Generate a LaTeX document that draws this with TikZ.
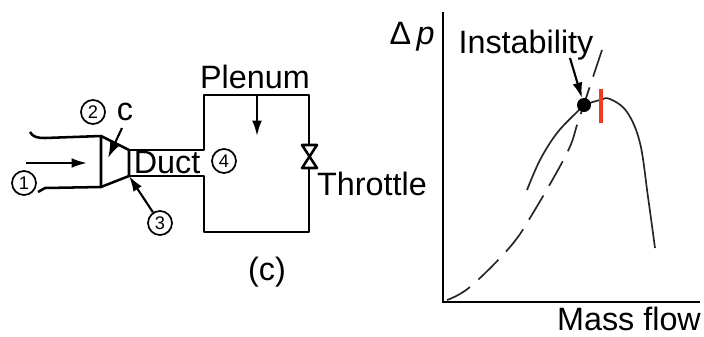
\documentclass[tikz,border=0pt]{standalone}
\usepackage{fontspec}
\setmainfont{Liberation Sans}
\usetikzlibrary{arrows.meta}
\definecolor{stallred}{RGB}{240,60,30}
\tikzset{
	wall/.style={line width=1.8pt, line join=round},
	thin curve/.style={line width=1.2pt, color=black!85},
	flow/.style={line width=1.5pt, -{Latex[length=11pt,width=7pt]}},
	station/.style={circle, draw, line width=1.2pt, minimum size=0.6cm, inner sep=0pt, font=\fontsize{13}{13}\selectfont},
	lbl/.style={inner sep=0pt, font=\fontsize{23}{23}\selectfont}
}
\begin{document}
\begin{tikzpicture}[x=0.025cm, y=-0.025cm]
	\useasboundingbox (0,0) rectangle (704,336);
	% inlet and compressor
	\coordinate (tl) at (101,136);
	\coordinate (bl) at (101,187);
	\coordinate (tr) at (129,150);
	\coordinate (br) at (129,176);
	\draw[wall] (30,132) .. controls (33,137) and (37,138) .. (45,138) -- (tl) -- (bl) -- (45,188) -- (38,192);
	\draw[wall] (tl) -- (tr) -- (br) -- (bl);
	\draw[flow] (26,163) -- (87,163);
	% plenum with duct
	\coordinate (pt) at (257,95);
	\draw[wall] (tr) -- (204,150) -- (204,95) -- (pt) -- (309,95) -- (309,145);
	\draw[wall] (br) -- (204,176) -- (204,232) -- (309,232) -- (309,168);
	\draw[wall] (302,145) -- (317,145) -- (302,168) -- (317,168) -- cycle;
	\coordinate (parrow) at (257,136);
	\draw[flow] (pt) -- (parrow);
	% stations
	\node[station] (st1) at (24,183) {1};
	\node[station] (st2) at (93,112) {2};
	\node[station] (st3) at (160,223) {3};
	\node[station] (st4) at (224,161) {4};
	\node[lbl] (clab) at (125,112) {c};
	\coordinate (cend) at (108,158);
	\draw[flow] (122,128) -- (cend);
	\draw[flow] (st3) -- (br);
	% labels
	\node[lbl] (duct) at (167,163) {Duct};
	\node[lbl] (plenum) at (255,77) {Plenum};
	\node[lbl] (throttle) at (372,184) {Throttle};
	\node[lbl] (clabel) at (267,272) {(c)};
	% map
	\coordinate (orig) at (443,302);
	\draw[line width=1.5pt] (443,12) -- (orig) -- (700,302);
	\node[lbl] (dp) at (412,37) {Δ\,\textit{p}};
	\node[lbl] (instab) at (526,45) {Instability};
	\node[lbl] (mflow) at (629,319) {Mass flow};
	\draw[thin curve] plot[smooth, tension=0.6] coordinates {(527,190) (540,160) (557,133) (577,112) (585,105) (600,100) (610,99) (627,112) (640,143) (648,197) (655,248)};
	\draw[thin curve, dash pattern=on 20pt off 8pt] plot[smooth, tension=0.6] coordinates {(602,50) (593,77) (578,122) (567,153) (533,213) (510,247) (470,287) (447,300)};
	\node[circle, fill=black, minimum size=0.35cm, inner sep=0pt] (stall) at (584,105) {};
	\coordinate (astart) at (570,58);
	\draw[flow] (astart) -- (stall);
	\draw[line width=2.8pt, color=stallred] (601,89) -- (601,123);
\end{tikzpicture}
\end{document}
